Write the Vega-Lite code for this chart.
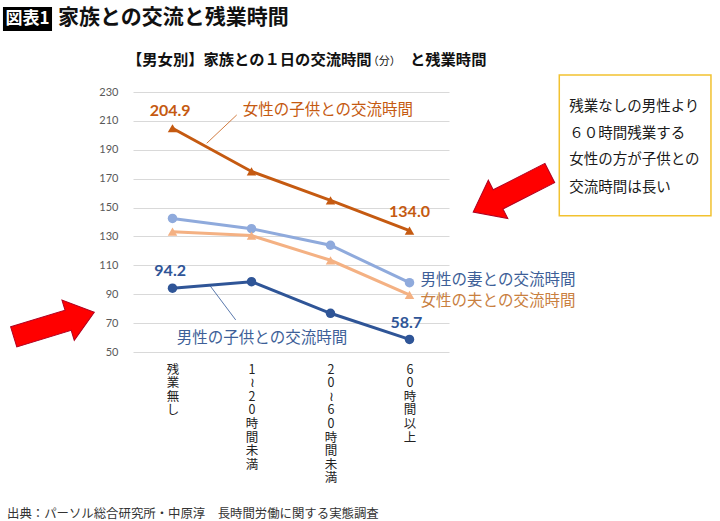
{
  "$schema": "https://vega.github.io/schema/vega-lite/v6.json",
  "width": 316,
  "height": 260,
  "autosize": {"type": "none"},
  "padding": {"left": 133, "top": 92, "right": 271, "bottom": 169},
  "background": "white",
  "config": {
    "view": {"stroke": null},
    "font": "Noto Sans CJK JP",
    "axis": {"labelOverlap": false, "labelFlush": false, "title": null, "domain": false, "ticks": false},
    "axisY": {"labelOverlap": false, "labelFontSize": 11, "labelColor": "#595959", "labelFont": "Lato", "labelPadding": 15, "gridColor": "#D9D9D9", "tickCount": 10},
    "axisX": {"labelOverlap": false, "grid": false}
  },
  "data": {
    "values": [
      {"i": 0, "series": "女性の子供との交流時間", "value": 204.9},
      {"i": 1, "series": "女性の子供との交流時間", "value": 175.0},
      {"i": 2, "series": "女性の子供との交流時間", "value": 155.0},
      {"i": 3, "series": "女性の子供との交流時間", "value": 134.0},
      {"i": 0, "series": "男性の妻との交流時間", "value": 142.5},
      {"i": 1, "series": "男性の妻との交流時間", "value": 135.4},
      {"i": 2, "series": "男性の妻との交流時間", "value": 123.9},
      {"i": 3, "series": "男性の妻との交流時間", "value": 98.0},
      {"i": 0, "series": "女性の夫との交流時間", "value": 133.3},
      {"i": 1, "series": "女性の夫との交流時間", "value": 130.6},
      {"i": 2, "series": "女性の夫との交流時間", "value": 113.5},
      {"i": 3, "series": "女性の夫との交流時間", "value": 89.5},
      {"i": 0, "series": "男性の子供との交流時間", "value": 94.2},
      {"i": 1, "series": "男性の子供との交流時間", "value": 98.7},
      {"i": 2, "series": "男性の子供との交流時間", "value": 76.8},
      {"i": 3, "series": "男性の子供との交流時間", "value": 58.7}
    ]
  },
  "layer": [
    {
      "mark": {"type": "line", "strokeWidth": 3},
      "encoding": {
        "x": {
          "field": "i", "type": "quantitative",
          "scale": {"domain": [-0.5, 3.5], "nice": false, "zero": false},
          "axis": {
            "values": [0, 1, 2, 3],
            "tickCount": 4,
            "labelExpr": "split(['残業無し','1≀20時間未満','20≀60時間未満','60時間以上'][datum.value], '')",
            "grid": false, "domain": false, "ticks": false,
            "labelAngle": 0, "labelBaseline": "top", "labelAlign": "center",
            "labelPadding": 11, "labelFontSize": 12.5, "labelLineHeight": 13.6,
            "labelColor": "#222222", "labelFont": "Noto Sans CJK JP",
            "labelOverlap": false, "labelFlush": false, "title": null
          }
        },
        "y": {
          "field": "value", "type": "quantitative",
          "scale": {"domain": [50, 230], "nice": false, "zero": false},
          "axis": {
            "values": [50, 70, 90, 110, 130, 150, 170, 190, 210, 230],
            "tickCount": 10,
            "grid": true, "gridColor": "#D9D9D9", "gridWidth": 1,
            "domain": false, "ticks": false, "labelPadding": 15,
            "labelFontSize": 11, "labelColor": "#595959", "labelFont": "Lato",
            "labelOverlap": false, "labelFlush": false, "title": null
          }
        },
        "color": {
          "field": "series", "type": "nominal",
          "scale": {
            "domain": ["女性の子供との交流時間", "男性の妻との交流時間", "女性の夫との交流時間", "男性の子供との交流時間"],
            "range": ["#C55A11", "#8FAADC", "#F4B183", "#2F5597"]
          },
          "legend": null
        }
      }
    },
    {
      "mark": {"type": "point", "filled": true, "opacity": 1, "size": 90},
      "encoding": {
        "x": {"field": "i", "type": "quantitative"},
        "y": {"field": "value", "type": "quantitative"},
        "color": {"field": "series", "type": "nominal", "legend": null},
        "shape": {
          "field": "series", "type": "nominal",
          "scale": {
            "domain": ["女性の子供との交流時間", "男性の妻との交流時間", "女性の夫との交流時間", "男性の子供との交流時間"],
            "range": ["triangle-up", "circle", "triangle-up", "circle"]
          },
          "legend": null
        }
      }
    },
    {
      "data": {"values": [{}]},
      "mark": {"type": "rule", "color": "#C55A11", "strokeWidth": 0.8},
      "encoding": {"x": {"datum": 0.433}, "y": {"datum": 194.5}, "x2": {"datum": 0.813}, "y2": {"datum": 214.1}}
    },
    {
      "data": {"values": [{}]},
      "mark": {"type": "rule", "color": "#2F5597", "strokeWidth": 0.8},
      "encoding": {"x": {"datum": 0.475}, "y": {"datum": 95.9}, "x2": {"datum": 0.8}, "y2": {"datum": 72.2}}
    },
    {
      "data": {"values": [{}]},
      "mark": {"type": "text", "text": "204.9", "font": "Lato", "fontWeight": "bold", "fontSize": 16, "color": "#C55A11", "align": "center", "baseline": "middle"},
      "encoding": {"x": {"datum": -0.03}, "y": {"datum": 217.1}}
    },
    {
      "data": {"values": [{}]},
      "mark": {"type": "text", "text": "134.0", "font": "Lato", "fontWeight": "bold", "fontSize": 16, "color": "#C55A11", "align": "center", "baseline": "middle"},
      "encoding": {"x": {"datum": 3.0}, "y": {"datum": 147.1}}
    },
    {
      "data": {"values": [{}]},
      "mark": {"type": "text", "text": "94.2", "font": "Lato", "fontWeight": "bold", "fontSize": 16, "color": "#2F5597", "align": "center", "baseline": "middle"},
      "encoding": {"x": {"datum": -0.03}, "y": {"datum": 106.3}}
    },
    {
      "data": {"values": [{}]},
      "mark": {"type": "text", "text": "58.7", "font": "Lato", "fontWeight": "bold", "fontSize": 16, "color": "#2F5597", "align": "center", "baseline": "middle"},
      "encoding": {"x": {"datum": 2.96}, "y": {"datum": 70.0}}
    },
    {
      "data": {"values": [{}]},
      "mark": {"type": "text", "text": "女性の子供との交流時間", "fontSize": 15.5, "color": "#C55A11", "align": "left", "baseline": "middle"},
      "encoding": {"x": {"datum": 0.889}, "y": {"datum": 217.5}}
    },
    {
      "data": {"values": [{}]},
      "mark": {"type": "text", "text": "男性の妻との交流時間", "fontSize": 15.5, "color": "#3E5F98", "align": "left", "baseline": "middle"},
      "encoding": {"x": {"datum": 3.14}, "y": {"datum": 99.6}}
    },
    {
      "data": {"values": [{}]},
      "mark": {"type": "text", "text": "女性の夫との交流時間", "fontSize": 15.5, "color": "#C9803F", "align": "left", "baseline": "middle"},
      "encoding": {"x": {"datum": 3.14}, "y": {"datum": 85.3}}
    },
    {
      "data": {"values": [{}]},
      "mark": {"type": "text", "text": "男性の子供との交流時間", "fontSize": 15.5, "color": "#3E5F98", "align": "center", "baseline": "middle"},
      "encoding": {"x": {"datum": 1.133}, "y": {"datum": 59.7}}
    },
    {
      "data": {"values": [{}]},
      "mark": {"type": "rect", "fill": "white", "stroke": "#F2C230", "strokeWidth": 1.5},
      "encoding": {"x": {"datum": 4.896}, "x2": {"datum": 6.816}, "y": {"datum": 241.8}, "y2": {"datum": 144.4}}
    },
    {
      "data": {"values": [{}]},
      "mark": {"type": "text", "text": "残業なしの男性より", "fontSize": 14.5, "color": "#1A1A1A", "align": "left", "baseline": "middle"},
      "encoding": {"x": {"datum": 5.021}, "y": {"datum": 219.8}}
    },
    {
      "data": {"values": [{}]},
      "mark": {"type": "text", "text": "６０時間残業する", "fontSize": 14.5, "color": "#1A1A1A", "align": "left", "baseline": "middle"},
      "encoding": {"x": {"datum": 5.021}, "y": {"datum": 200.9}}
    },
    {
      "data": {"values": [{}]},
      "mark": {"type": "text", "text": "女性の方が子供との", "fontSize": 14.5, "color": "#1A1A1A", "align": "left", "baseline": "middle"},
      "encoding": {"x": {"datum": 5.021}, "y": {"datum": 182.9}}
    },
    {
      "data": {"values": [{}]},
      "mark": {"type": "text", "text": "交流時間は長い", "fontSize": 14.5, "color": "#1A1A1A", "align": "left", "baseline": "middle"},
      "encoding": {"x": {"datum": 5.021}, "y": {"datum": 163.7}}
    },
    {
      "data": {"values": [{}]},
      "mark": {"type": "point", "shape": "M -1 -0.25 L 0.35 -0.25 L 0.35 -0.5 L 1 0 L 0.35 0.5 L 0.35 0.25 L -1 0.25 Z", "filled": true, "opacity": 1, "size": 7400, "angle": 153, "fill": "#FF0000", "stroke": "#B00020", "strokeWidth": 1},
      "encoding": {"x": {"datum": 4.291}, "y": {"datum": 160.4}}
    },
    {
      "data": {"values": [{}]},
      "mark": {"type": "point", "shape": "M -1 -0.25 L 0.35 -0.25 L 0.35 -0.5 L 1 0 L 0.35 0.5 L 0.35 0.25 L -1 0.25 Z", "filled": true, "opacity": 1, "size": 7100, "angle": 343, "fill": "#FF0000", "stroke": "#B00020", "strokeWidth": 1},
      "encoding": {"x": {"datum": -1.5}, "y": {"datum": 69.0}}
    },
    {
      "data": {"values": [{}]},
      "mark": {"type": "rect", "fill": "#000000"},
      "encoding": {"x": {"datum": -2.146}, "x2": {"datum": -1.525}, "y": {"datum": 288.8}, "y2": {"datum": 272.2}}
    },
    {
      "data": {"values": [{}]},
      "mark": {"type": "text", "text": "図表1", "fontSize": 17, "fontWeight": "bold", "color": "white", "align": "center", "baseline": "middle"},
      "encoding": {"x": {"datum": -1.835}, "y": {"datum": 280.5}}
    },
    {
      "data": {"values": [{}]},
      "mark": {"type": "text", "text": "家族との交流と残業時間", "fontSize": 21, "fontWeight": "bold", "color": "#111111", "align": "left", "baseline": "middle"},
      "encoding": {"x": {"datum": -1.449}, "y": {"datum": 281.2}}
    },
    {
      "data": {"values": [{}]},
      "mark": {"type": "text", "text": "【男女別】家族との１日の交流時間", "fontSize": 15.3, "fontWeight": "bold", "color": "#111111", "align": "left", "baseline": "middle"},
      "encoding": {"x": {"datum": -0.576}, "y": {"datum": 252.2}}
    },
    {
      "data": {"values": [{}]},
      "mark": {"type": "text", "text": "（分）", "fontSize": 11, "color": "#111111", "align": "left", "baseline": "middle"},
      "encoding": {"x": {"datum": 2.47}, "y": {"datum": 250.8}}
    },
    {
      "data": {"values": [{}]},
      "mark": {"type": "text", "text": "と残業時間", "fontSize": 15.3, "fontWeight": "bold", "color": "#111111", "align": "left", "baseline": "middle"},
      "encoding": {"x": {"datum": 3.006}, "y": {"datum": 252.2}}
    },
    {
      "data": {"values": [{}]},
      "mark": {"type": "text", "text": "出典：パーソル総合研究所・中原淳　長時間労働に関する実態調査", "fontSize": 12.4, "color": "#333333", "align": "left", "baseline": "middle"},
      "encoding": {"x": {"datum": -2.095}, "y": {"datum": -62.2}}
    }
  ]
}
